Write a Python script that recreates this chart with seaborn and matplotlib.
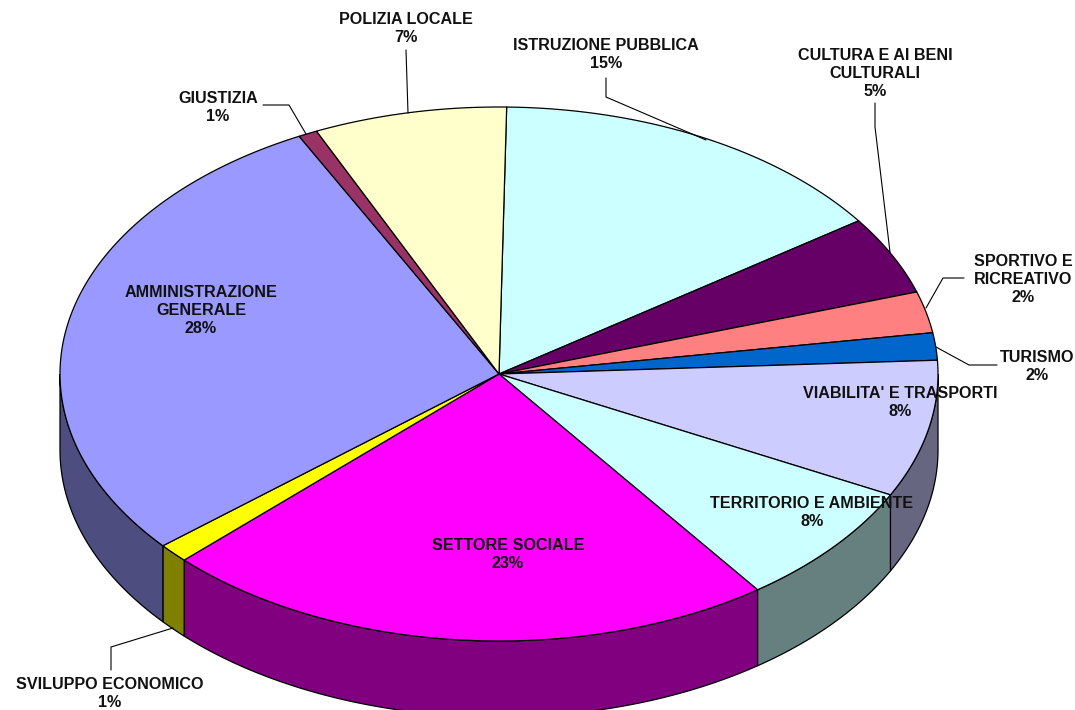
import numpy as np
import matplotlib
matplotlib.use("Agg")
import matplotlib.pyplot as plt
import seaborn as sns

# dati (quote in %, senso orario)
voci = ["ISTRUZIONE PUBBLICA", "CULTURA E AI BENI\nCULTURALI", "SPORTIVO E\nRICREATIVO", "TURISMO",
        "VIABILITA' E TRASPORTI", "TERRITORIO E AMBIENTE", "SETTORE SOCIALE", "SVILUPPO ECONOMICO",
        "AMMINISTRAZIONE\nGENERALE", "GIUSTIZIA", "POLIZIA LOCALE"]
quote = [15.0, 4.75, 2.5, 1.65, 8.3, 7.5, 22.75, 1.15, 28.6, 0.7, 7.1]
etichette_pct = ["15%", "5%", "2%", "2%", "8%", "8%", "23%", "1%", "28%", "1%", "7%"]
colori = ["#CCFFFF", "#660066", "#FF8080", "#0066CC", "#CCCCFF", "#CCFFFF",
          "#FF00FF", "#FFFF00", "#9999FF", "#993366", "#FFFFCC"]

# geometria della torta in pixel
CX, CY, RX, RY, SPESSORE = 499, 374, 439, 267, 76
ANGOLO_INIZIO = 89

# centro del testo e riga di partenza per ogni voce
pos_testo = [(606, 38), (875, 48), (1023, 254), (1037, 350), (900, 386),
             (812, 496), (508, 538), (110, 677), (201, 285), (218, 91), (406, 12)]
linee_guida = [
    [(606, 78), (606, 97), (706, 140)],
    [(875, 103), (875, 127), (890, 252)],
    [(964, 278), (943, 278), (926, 308)],
    [(997, 365), (969, 365), (936, 347)],
    [(263, 105), (289, 105), (306, 134)],
    [(406, 50), (408, 113)],
    [(111, 670), (111, 647), (173, 628)],
]

sns.set_style("white")
plt.rcParams['font.family'] = ['Liberation Sans', 'DejaVu Sans']
palette = sns.color_palette(colori)

fig = plt.figure(figsize=(10.75, 7.1), dpi=100)
ax = fig.add_axes([0, 0, 1, 1])
ax.set_xlim(0, 1075)
ax.set_ylim(710, 0)
ax.axis("off")


def arco(t1, t2, dy=0):
    t = np.radians(np.linspace(t1, t2, 200))
    return CX + RX * np.cos(t), CY + dy - RY * np.sin(t)


ampiezze = np.array(quote) / sum(quote) * 360
fine = ANGOLO_INIZIO - np.cumsum(ampiezze)
inizio = np.r_[ANGOLO_INIZIO, fine[:-1]]

# pareti laterali: solo la parte anteriore (angoli tra 180 e 360)
for a, b, col in zip(inizio, fine, palette):
    a2, b2 = min(a, 0), max(b, -180)
    if a2 <= b2:
        continue
    x, y = arco(a2, b2)
    xb, yb = arco(b2, a2, SPESSORE)
    ax.fill(np.r_[x, xb], np.r_[y, yb], facecolor=np.array(col) * 0.5,
            edgecolor="black", linewidth=0.9, zorder=1)

# faccia superiore
for a, b, col in zip(inizio, fine, palette):
    x, y = arco(a, b)
    ax.fill(np.r_[CX, x], np.r_[CY, y], facecolor=col, edgecolor="black",
            linewidth=0.9, joinstyle="round", zorder=2)

for punti in linee_guida:
    px, py = zip(*punti)
    ax.plot(px, py, color="black", linewidth=0.8, zorder=3)

for voce, pct, (x, y) in zip(voci, etichette_pct, pos_testo):
    ax.text(x, y, voce + "\n" + pct, ha="center", va="top", fontsize=11.6, fontweight="bold",
            color="#111111", linespacing=1.27, zorder=4)

fig.savefig("out.png", dpi=100, facecolor="white")
